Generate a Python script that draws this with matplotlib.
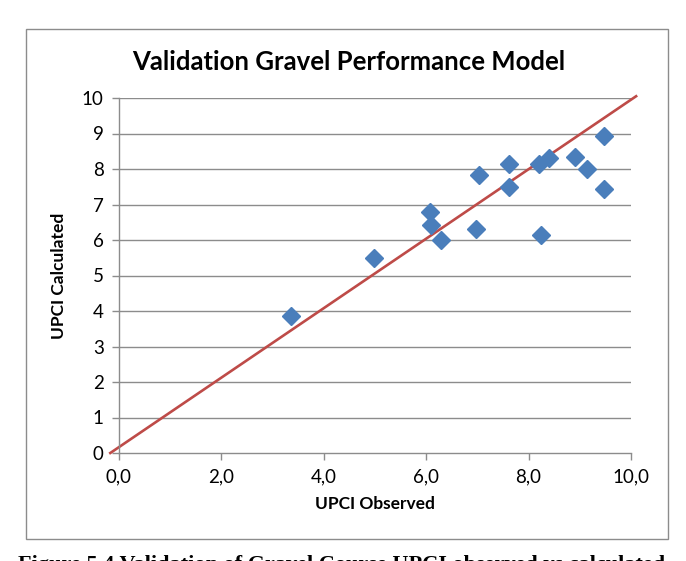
import matplotlib
matplotlib.use("Agg")
import matplotlib.pyplot as plt
from matplotlib.patches import Rectangle
from matplotlib.ticker import FuncFormatter

plt.rcParams['font.family'] = ['Lato', 'DejaVu Sans']

# observed vs calculated UPCI values
upci_observed = [3.35, 4.98, 6.08, 6.10, 6.28, 6.98, 7.03, 7.62, 7.62,
                 8.20, 8.39, 8.24, 8.90, 9.15, 9.47, 9.47]
upci_calculated = [3.85, 5.50, 6.79, 6.42, 6.01, 6.32, 7.84, 8.15, 7.50,
                   8.15, 8.32, 6.15, 8.34, 8.00, 8.92, 7.44]

# hand drawn reference line (runs slightly past the axes)
line_x = [-0.17, 10.10]
line_y = [0.00, 10.05]

x_ticks = [0, 2, 4, 6, 8, 10]
y_ticks = list(range(0, 11))

title = 'Validation Gravel Performance Model'
caption = 'Figure 5.4 Validation of Gravel Course UPCI observed vs calculated'

W, H = 686, 561
fig = plt.figure(figsize=(W / 100, H / 100), dpi=100)
fig.patch.set_facecolor('white')

# chart frame
fig.patches.append(Rectangle((26 / W, 1 - 539 / H), (668 - 26) / W, (539 - 29) / H,
                             transform=fig.transFigure, fill=False,
                             edgecolor='#8c8c8c', linewidth=1.0))

ax = fig.add_axes([119 / W, 1 - 453 / H, (631 - 119) / W, (453 - 98) / H])
ax.set_xlim(0, 10)
ax.set_ylim(0, 10)

for y in y_ticks[1:]:
    ax.axhline(y, color='#8c8c8c', linewidth=1.0, zorder=1)

ax.plot(line_x, line_y, color='#BE4B48', linewidth=1.9, clip_on=False, zorder=2)
ax.plot(upci_observed, upci_calculated, linestyle='none', marker='D',
        markersize=9.5, color='#4A7EBB', markeredgecolor='#4A7EBB', zorder=3,
        clip_on=False)

for side in ['top', 'right']:
    ax.spines[side].set_visible(False)
for side in ['left', 'bottom']:
    ax.spines[side].set_color('#8c8c8c')
    ax.spines[side].set_linewidth(1.0)

ax.set_xticks(x_ticks)
ax.set_yticks(y_ticks)
ax.xaxis.set_major_formatter(FuncFormatter(lambda v, p: '{:.1f}'.format(v).replace('.', ',')))
ax.tick_params(axis='both', direction='out', length=5, width=1.0, color='#8c8c8c',
               labelsize=13.5, labelcolor='black')
ax.tick_params(axis='y', pad=6)
ax.tick_params(axis='x', pad=6)

ax.set_xlabel('UPCI Observed', fontsize=12.5, fontweight='bold', labelpad=8)
ax.set_ylabel('UPCI Calculated', fontsize=12.5, fontweight='bold', labelpad=11)

fig.text(0.5 * (26 + 668) / W + 2 / W, 1 - 62 / H, title, ha='center', va='center',
         fontsize=18.5, fontweight='bold')

fig.text(18 / W, 1 - 555 / H, caption, ha='left', va='top', fontsize=16,
         fontweight='bold', family=['Liberation Serif', 'DejaVu Serif'])

fig.savefig('out.png', dpi=100)
